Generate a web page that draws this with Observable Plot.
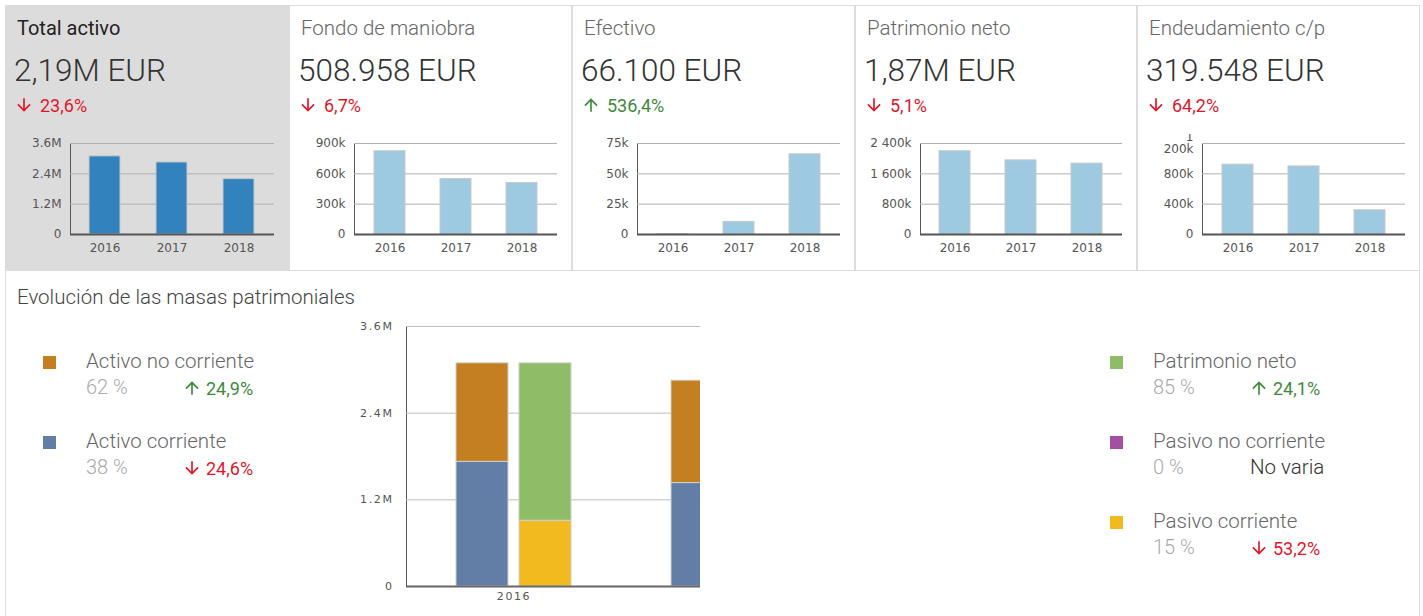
<!DOCTYPE html>
<html><head><meta charset="utf-8">
<script src="https://cdn.jsdelivr.net/npm/d3@7"></script>
<script src="https://cdn.jsdelivr.net/npm/@observablehq/plot@0.6"></script>
<style>
body{margin:0;width:1423px;height:616px;position:relative;overflow:hidden;font-family:Roboto,sans-serif;background:#fff}
.card{position:absolute;top:5px;height:266px;border:1px solid #dcdcdc;box-sizing:border-box;background:#fff}
.card.sel{background:#dcdcdc}
.t{position:absolute;white-space:nowrap}
.title{font-size:20.5px;font-weight:300;color:#666;line-height:1}
.val{font-size:31.5px;font-weight:300;color:#333;line-height:1}
.chg{font-size:18px;line-height:1}
.up{color:#3d8a3d}.down{color:#e0162b}
.panel{position:absolute;left:5px;top:270px;width:1415px;height:360px;border:1px solid #dcdcdc;box-sizing:border-box;background:#fff}
.lg-sq{position:absolute;width:13px;height:13px}
.lg-name{font-size:20.5px;font-weight:300;color:#666;line-height:1}
.lg-pct{font-size:20px;font-weight:300;color:#aaa;line-height:1}
.lg-nv{font-size:20.5px;font-weight:300;color:#333;line-height:1}
.chart{position:absolute;overflow:hidden}
.chart svg{max-width:none !important}
</style></head><body>
<script>
// ---------- data ----------
const years = ["2016", "2017", "2018"];
const cardTitles = ["Total activo", "Fondo de maniobra", "Efectivo", "Patrimonio neto", "Endeudamiento c/p"];
const cardValues = ["2,19M EUR", "508.958 EUR", "66.100 EUR", "1,87M EUR", "319.548 EUR"];
const cardChanges = ["23,6%", "6,7%", "536,4%", "5,1%", "64,2%"];
const cardDirections = ["down", "down", "up", "down", "down"];
const totalActivo = [3090000, 2850000, 2190000];
const fondoManiobra = [823000, 548000, 508958];
const efectivo = [300, 10400, 66100];
const patrimonioNeto = [2195000, 1956000, 1870000];
const endeudamientoCp = [921000, 898000, 319548];
const cardTickValues = [
  [0, 1200000, 2400000, 3600000],
  [0, 300000, 600000, 900000],
  [0, 25000, 50000, 75000],
  [0, 800000, 1600000, 2400000],
  [0, 400000, 800000, 1200000]
];
const cardTickLabels = [
  ["0", "1.2M", "2.4M", "3.6M"],
  ["0", "300k", "600k", "900k"],
  ["0", "25k", "50k", "75k"],
  ["0", "800k", "1 600k", "2 400k"],
  ["0", "400k", "800k", "1\n200k"]
];

const panelTitle = "Evolución de las masas patrimoniales";
const stackSeries = ["Activo corriente", "Activo no corriente", "Pasivo corriente", "Pasivo no corriente", "Patrimonio neto"];
const stackSide = ["Activo", "Activo", "Pasivo", "Pasivo", "Pasivo"];
const stackColors = ["#627ea7", "#c47f20", "#f1bb1f", "#a450a0", "#8fbd67"];
const activoCorriente = [1726000, 1432000, 830000];
const activoNoCorriente = [1364000, 1418000, 1360000];
const pasivoCorriente = [911000, 898000, 319548];
const pasivoNoCorriente = [0, 0, 0];
const patrimonioNetoMasas = [2179000, 1956000, 1870000];
const mainTickValues = [0, 1200000, 2400000, 3600000];
const mainTickLabels = ["0", "1.2M", "2.4M", "3.6M"];
const mainVisibleYears = ["2016"];

const legendLeft = ["Activo no corriente", "Activo corriente"];
const legendLeftPct = ["62 %", "38 %"];
const legendLeftChg = ["24,9%", "24,6%"];
const legendLeftDir = ["up", "down"];
const legendRight = ["Patrimonio neto", "Pasivo no corriente", "Pasivo corriente"];
const legendRightPct = ["85 %", "0 %", "15 %"];
const legendRightChg = ["24,1%", "No varia", "53,2%"];
const legendRightDir = ["up", "none", "down"];

// ---------- layout ----------
const cardLeft = [5, 289, 572, 855, 1137];
const cardWidth = [284, 283, 283, 282, 283];
const cardSeries = [totalActivo, fondoManiobra, efectivo, patrimonioNeto, endeudamientoCp];
const body = document.body;

function arrowSvg(dir) {
  const col = dir === "up" ? "#3d8a3d" : "#e0162b";
  const rot = dir === "up" ? "rotate(180 12 12)" : "";
  return `<svg width="20" height="20" viewBox="0 0 24 24" style="display:block"><path transform="${rot}" fill="${col}" d="M20 12l-1.41-1.41L13 16.17V4h-2v12.17l-5.58-5.59L4 12l8 8 8-8z"/></svg>`;
}
function addText(html, cls, x, y, parent = body) {
  const d = document.createElement("div");
  d.className = "t " + cls;
  d.style.left = x + "px";
  d.style.top = y + "px";
  d.innerHTML = html;
  parent.appendChild(d);
  return d;
}

cardTitles.forEach((title, i) => {
  const card = document.createElement("div");
  card.className = "card" + (i === 0 ? " sel" : "");
  card.style.left = cardLeft[i] + "px";
  card.style.width = cardWidth[i] + "px";
  body.appendChild(card);
  const L = cardLeft[i];
  const tt = addText(title, "title", L + 12, 18);
  if (i === 0) { tt.style.color = "#222"; tt.style.fontWeight = "400"; tt.style.fontSize = "20px"; }
  addText(cardValues[i], "val", L + 9, 55);
  addText(arrowSvg(cardDirections[i]), "", L + 9, 95);
  addText(cardChanges[i], "chg " + cardDirections[i], L + 35, 97);

  const rows = years.map((y, j) => ({year: y, value: cardSeries[i][j]}));
  const ticks = cardTickValues[i];
  const labels = cardTickLabels[i];
  const plot = Plot.plot({
    width: cardWidth[i], height: 126,
    marginLeft: 65, marginRight: 15, marginTop: 9, marginBottom: 26,
    style: {background: "transparent", fontFamily: "DejaVu Sans", fontSize: "12px", color: "#555", overflow: "hidden"},
    x: {domain: years, paddingInner: 0.53, paddingOuter: 0.28, tickSize: 0, tickPadding: 9, label: null},
    y: {domain: [0, ticks[ticks.length - 1]], ticks: ticks, tickFormat: d => labels[ticks.indexOf(d)], tickSize: 0, tickPadding: 9, label: null, line: true},
    marks: [
      Plot.ruleY(ticks, {stroke: "#b0b0b0"}),
      Plot.barY(rows, {x: "year", y: "value", fill: i === 0 ? "#3182bd" : "#9ecae1", stroke: "#c8c8c8"}),
      Plot.ruleY([0], {stroke: "#555", strokeWidth: 2})
    ]
  });
  const wrap = document.createElement("div");
  wrap.className = "chart";
  wrap.style.left = L + "px";
  wrap.style.top = "134px";
  wrap.style.width = cardWidth[i] + "px";
  wrap.style.height = "126px";
  wrap.appendChild(plot);
  body.appendChild(wrap);
});

// ---------- bottom panel ----------
const panel = document.createElement("div");
panel.className = "panel";
body.appendChild(panel);
const pt = addText(panelTitle, "title", 17, 287);
pt.style.color = "#444";

const stackValues = [activoCorriente, activoNoCorriente, pasivoCorriente, pasivoNoCorriente, patrimonioNetoMasas];
const stackRows = [];
years.forEach((y, j) => stackSeries.forEach((s, k) => stackRows.push({year: y, side: stackSide[k], serie: s, value: stackValues[k][j]})));

const main = Plot.plot({
  width: 66 + 645, height: 300,
  marginLeft: 66, marginRight: 0, marginTop: 10, marginBottom: 30,
  style: {background: "transparent", fontFamily: "DejaVu Sans", fontSize: "11px", letterSpacing: "1.6px", color: "#555", overflow: "visible", maxWidth: "none"},
  fx: {domain: years, padding: 0, axis: "bottom", ticks: mainVisibleYears, tickSize: 0, tickPadding: 6, label: null},
  x: {domain: ["Activo", "Pasivo"], paddingInner: 0.18, paddingOuter: 0.77, axis: null},
  y: {domain: [0, 3600000], ticks: mainTickValues, tickFormat: d => mainTickLabels[mainTickValues.indexOf(d)], tickSize: 0, tickPadding: 13, label: null, line: true},
  color: {domain: stackSeries, range: stackColors},
  marks: [
    Plot.ruleY(mainTickValues, {stroke: "#bdbdbd"}),
    Plot.barY(stackRows, {fx: "year", x: "side", y: "value", fill: "serie", stroke: "#d0d0d0", order: stackSeries}),
    Plot.ruleY([0], {stroke: "#666", strokeWidth: 2})
  ]
});
const mwrap = document.createElement("div");
mwrap.className = "chart";
mwrap.style.left = "340px";
mwrap.style.top = "316px";
mwrap.style.width = "360px";
mwrap.style.height = "300px";
mwrap.appendChild(main);
body.appendChild(mwrap);

function legendBlock(x, y, name, color, pct, chg, dir, chgX) {
  const sq = document.createElement("div");
  sq.className = "lg-sq";
  sq.style.left = x + "px"; sq.style.top = (y - 6) + "px"; sq.style.background = color;
  body.appendChild(sq);
  addText(name, "lg-name", x + 43, y - 11);
  addText(pct, "lg-pct", x + 43, y + 15);
  if (dir === "none") {
    addText(chg, "lg-nv", x + chgX - 2, y + 15);
  } else {
    addText(arrowSvg(dir), "", x + chgX - 3, y + 16);
    addText(chg, "chg " + dir, x + chgX + 21, y + 18);
  }
}
legendLeft.forEach((n, i) => legendBlock(43, 362 + i * 80, n, stackColors[stackSeries.indexOf(n)], legendLeftPct[i], legendLeftChg[i], legendLeftDir[i], 142));
legendRight.forEach((n, i) => legendBlock(1110, 362 + i * 80, n, stackColors[stackSeries.indexOf(n)], legendRightPct[i], legendRightChg[i], legendRightDir[i], 142));
</script>
</body></html>
